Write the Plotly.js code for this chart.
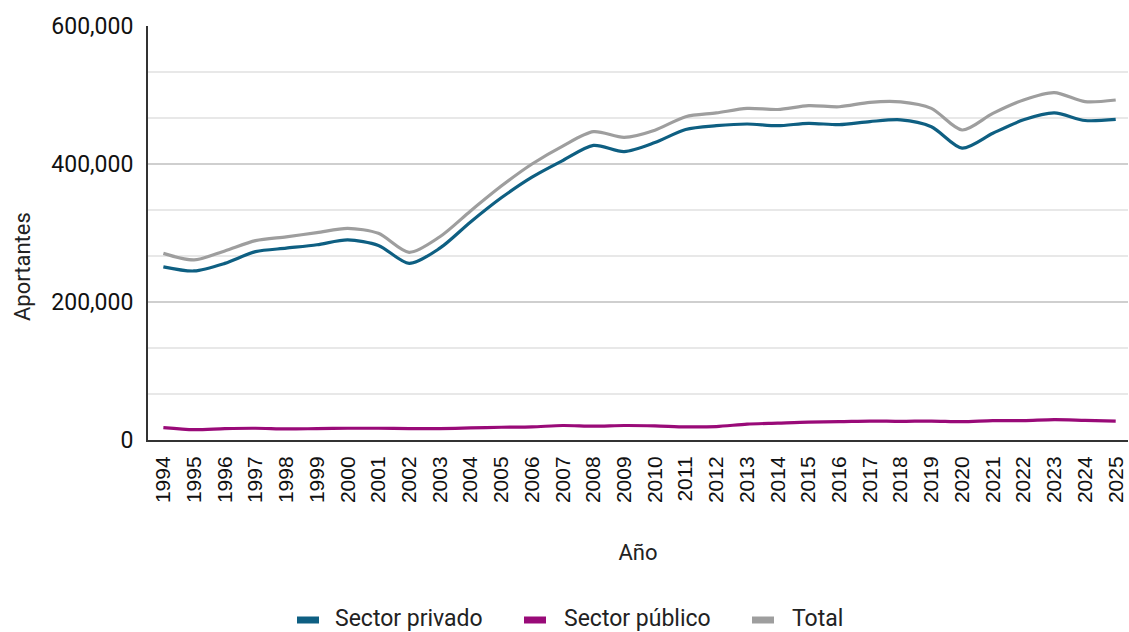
<!DOCTYPE html>
<html>
<head>
<meta charset="utf-8">
<script src="https://cdn.plot.ly/plotly-3.0.1.min.js"></script>
<style>
html,body{margin:0;padding:0;overflow:hidden;background:#fff;}
#chart{width:1129px;height:632px;}
</style>
</head>
<body>
<div id="chart"></div>
<script>
const years = [1994,1995,1996,1997,1998,1999,2000,2001,2002,2003,2004,2005,2006,2007,2008,2009,2010,2011,2012,2013,2014,2015,2016,2017,2018,2019,2020,2021,2022,2023,2024,2025];
const privado = [251000,245000,256000,273000,278000,283000,290000,282000,256000,278000,316000,351000,381000,405000,427000,418000,431000,450000,455500,458000,455500,459000,457000,461500,464000,454000,423000,444500,464000,474000,463000,464700];
const publico = [18000,15000,16500,17000,16000,16500,17000,17000,16500,16500,17500,18500,19000,21000,20000,21000,20500,19000,19500,23000,24500,26000,26500,27500,27000,27500,26500,28000,28000,29500,28500,27500];
const total = [270500,261000,274000,289000,294500,300500,306800,299500,272000,294600,332000,368000,400000,426000,446800,438600,449000,468600,474000,480600,479000,484500,483000,489400,490000,480600,449300,473400,492800,503400,490300,492800];
const seriesNames = ['Sector privado','Sector público','Total'];
const colors = ['#0e5f82','#990a78','#9e9e9e'];
const yTickVals = [0,200000,400000,600000];
const yTickText = ['0','200,000','400,000','600,000'];

const F = 'Roboto, "Open Sans", sans-serif';
const FA = '"Liberation Sans", Arial, sans-serif';
const traces = [privado, publico, total].map((v,i)=>({
  x: years, y: v, name: seriesNames[i], type: 'scatter', mode: 'lines',
  line: {color: colors[i], width: 3.2, shape: 'spline', smoothing: 0.8},
  showlegend: false, hoverinfo: 'skip'
}));

// legend drawn below the plot (pixel layout converted to paper coords)
const L = 148, W = 980, B = 440, H = 414;
const px = v => (v - L) / W, py = v => (B - v) / H;
const legSym = [297, 524, 752], legText = [336, 565, 793];
const legendShapes = seriesNames.map((n,i)=>({
  type: 'rect', xref: 'paper', yref: 'paper', layer: 'above',
  x0: px(legSym[i]), x1: px(legSym[i] + 22), y0: py(623.5), y1: py(616.5),
  fillcolor: colors[i], line: {width: 0}
}));
const legendAnn = seriesNames.map((n,i)=>({
  text: n, xref: 'paper', yref: 'paper', x: px(legText[i] - 2), y: py(618),
  xanchor: 'left', yanchor: 'middle', showarrow: false, borderpad: 0,
  font: {family: F, size: 23, color: '#222'}
}));

const layout = {
  width: 1129, height: 632,
  margin: {l: 148, r: 1, t: 26, b: 192},
  paper_bgcolor: '#fff', plot_bgcolor: '#fff',
  font: {family: F, color: '#222', size: 22},
  showlegend: false,
  xaxis: {
    range: [1993.5, 2025.4], tickmode: 'array', tickvals: years, ticktext: years.map(String),
    tickangle: -90, tickfont: {family: FA, size: 21, color: '#111'}, ticklabeloverflow: 'allow',
    showgrid: false, zeroline: false, showline: true, linecolor: '#333', linewidth: 2,
    ticks: '', ticklabelstandoff: 6,
    title: {text: 'Año', font: {family: F, size: 22, color: '#222'}, standoff: 42}
  },
  yaxis: {
    range: [0, 600000], tickmode: 'array', tickvals: yTickVals, ticktext: yTickText,
    tickfont: {family: F, size: 23, color: '#111'},
    showgrid: true, gridcolor: '#cfcfcf', gridwidth: 1.5,
    minor: {dtick: 200000/3, tick0: 0, showgrid: true, gridcolor: '#e8e8e8', gridwidth: 1.5},
    zeroline: false, showline: true, linecolor: '#333', linewidth: 2,
    ticks: '', ticklabelstandoff: 8
  },
  shapes: legendShapes,
  annotations: [{
    text: 'Aportantes', textangle: -90, xref: 'paper', yref: 'paper',
    x: px(22), y: py(267), xanchor: 'center', yanchor: 'middle', showarrow: false,
    font: {family: F, size: 22, color: '#222'}
  }].concat(legendAnn)
};
Plotly.newPlot('chart', traces, layout, {displayModeBar: false, staticPlot: true});
</script>
</body>
</html>
